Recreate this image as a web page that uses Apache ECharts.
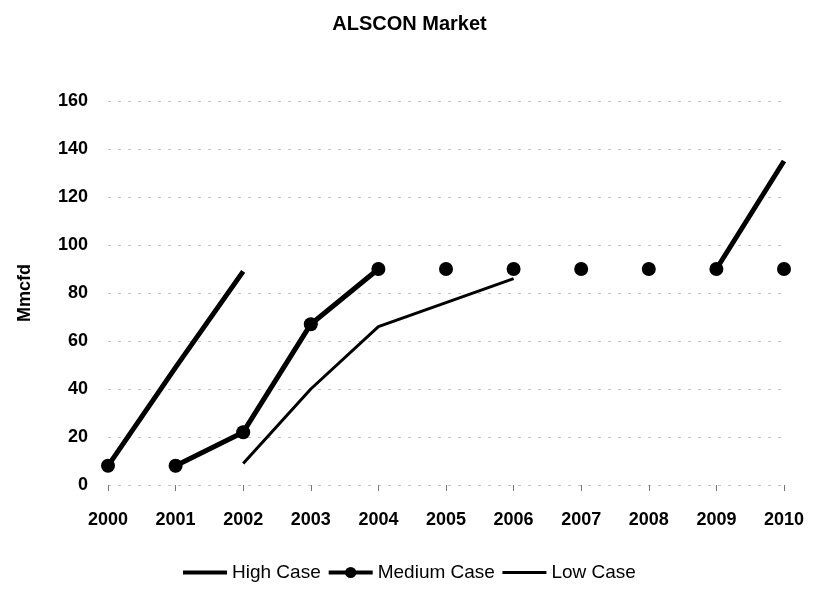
<!DOCTYPE html>
<html><head><meta charset="utf-8">
<script src="https://cdn.jsdelivr.net/npm/echarts@6/dist/echarts.min.js"></script>
<style>html,body{margin:0;padding:0;background:#fff}#c{width:819px;height:601px}</style>
</head><body><div id="c"></div>
<script>
var years = ['2000','2001','2002','2003','2004','2005','2006','2007','2008','2009','2010'];
var highCase = [8, 49, 89, null, null, null, null, null, null, 90, 135];
var mediumLine = [null, 8, 22, 67, 90, null, null, null, null, null, null];
var mediumPoints = [8, 8, 22, 67, 90, 90, 90, 90, 90, 90, 90];
var lowCase = [null, null, 9, 40, 66, 76, 86, null, null, null, null];
var yTicks = {min: 0, max: 160, step: 20};

var chart = echarts.init(document.getElementById('c'));
var font = 'Liberation Sans, Arial, sans-serif';
var hidden = {opacity: 0, color: 'rgba(0,0,0,0)', borderWidth: 0};
chart.setOption({
  animation: false,
  title: {text: 'ALSCON Market', left: 'center', top: 9,
    textStyle: {fontFamily: font, fontSize: 20, fontWeight: 'bold', color: '#000'}},
  grid: {left: 108, right: 35, top: 101, bottom: 116},
  legend: {bottom: 14, left: 176, itemWidth: 44, itemHeight: 14, itemGap: 6,
    textStyle: {fontFamily: font, fontSize: 19, color: '#000'},
    data: [
      {name: 'High Case', itemStyle: hidden, lineStyle: {width: 4, color: '#000'}},
      {name: 'Medium Case', lineStyle: {width: 4, color: '#000'}},
      {name: 'Low Case', itemStyle: hidden, lineStyle: {width: 3, color: '#000'}}
    ]},
  xAxis: {type: 'category', data: years, boundaryGap: false,
    axisLine: {show: false},
    axisTick: {show: true, length: 6, lineStyle: {color: '#777'}},
    axisLabel: {fontFamily: font, fontSize: 18, fontWeight: 'bold', color: '#000', margin: 26},
    splitLine: {show: false}},
  yAxis: {type: 'value', min: yTicks.min, max: yTicks.max, interval: yTicks.step,
    name: 'Mmcfd', nameLocation: 'middle', nameGap: 74, nameRotate: 90,
    nameTextStyle: {fontFamily: font, fontSize: 18, fontWeight: 'bold', color: '#000'},
    axisLine: {show: false}, axisTick: {show: false},
    axisLabel: {fontFamily: font, fontSize: 18, fontWeight: 'bold', color: '#000', margin: 20},
    splitLine: {show: true, lineStyle: {color: '#c4c4c4', type: [3, 7], width: 1}}},
  series: [
    {name: 'High Case', type: 'line', data: highCase, connectNulls: false,
      symbol: 'none', lineStyle: {color: '#000', width: 5}, itemStyle: {color: '#000'}},
    {name: 'Medium Case', type: 'line', data: mediumLine, connectNulls: false,
      symbol: 'circle', symbolSize: 13, showSymbol: true,
      lineStyle: {color: '#000', width: 5}, itemStyle: {color: '#000'}},
    {name: 'Medium Case', type: 'scatter', data: mediumPoints,
      symbol: 'circle', symbolSize: 14, itemStyle: {color: '#000', opacity: 1}},
    {name: 'Low Case', type: 'line', data: lowCase, connectNulls: false,
      symbol: 'none', lineStyle: {color: '#000', width: 3}, itemStyle: {color: '#000'}}
  ]
});
</script></body></html>
